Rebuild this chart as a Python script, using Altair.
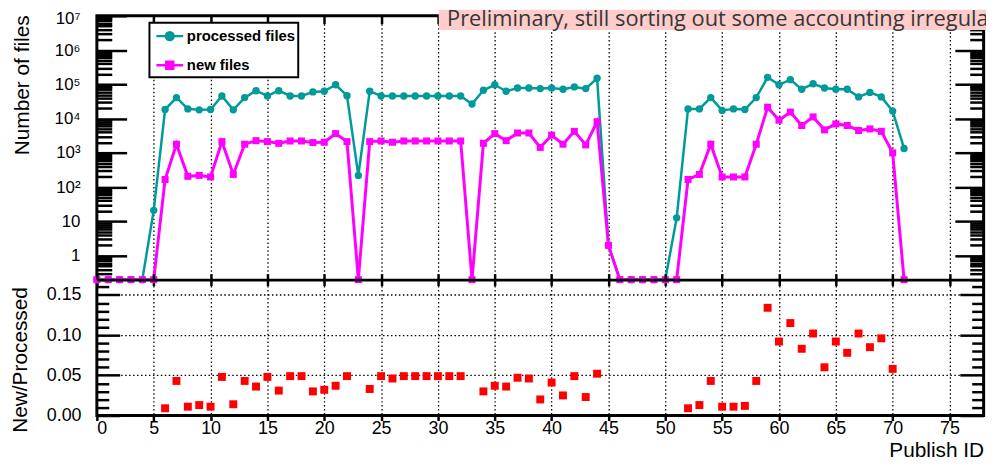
import altair as alt
import pandas as pd

# ---------------- data ----------------
publish_id = list(range(72))
processed_files = [
    0, 0, 0, 0, 0, 21, 1.84e4, 4.1e4, 1.92e4, 1.8e4, 1.84e4, 4.57e4, 1.8e4, 4.1e4,
    6.5e4, 4.57e4, 6.5e4, 4.57e4, 4.57e4, 6.0e4, 6.3e4,
    9.7e4, 4.67e4, 220, 6.3e4, 4.57e4, 4.57e4, 4.57e4, 4.57e4, 4.57e4, 4.57e4, 4.57e4,
    4.57e4, 2.66e4, 6.7e4, 9.7e4, 6.3e4, 7.8e4, 7.8e4, 7.5e4, 7.8e4, 7.2e4, 8.4e4,
    7.5e4, 1.5e5, 2,
    0, 0, 0, 0, 0,
    12.7, 1.92e4, 1.92e4, 4.1e4, 1.73e4, 1.92e4, 1.84e4, 4.1e4, 1.6e5, 9.7e4, 1.37e5,
    7.2e4, 1.04e5, 7.8e4, 7.2e4, 7.2e4, 4.3e4, 5.8e4, 4.3e4, 1.66e4, 1.35e3,
]
new_files = [
    0, 0, 0, 0, 0, 0,
    167, 1.79e3, 207, 220, 198, 2.13e3, 235, 1.79e3, 2.27e3, 2.13e3, 1.9e3, 2.22e3,
    2.22e3, 2.0e3, 2.04e3, 3.64e3, 2.13e3,
    0,
    2.13e3, 2.22e3, 2.04e3, 2.22e3, 2.22e3, 2.22e3, 2.22e3, 2.22e3, 2.22e3,
    0,
    1.9e3, 3.64e3, 2.27e3, 3.8e3, 3.8e3, 1.44e3, 3.28e3, 1.79e3, 4.25e3, 1.71e3, 8.1e3, 2,
    0, 0, 0, 0, 0, 0,
    167, 235, 1.79e3, 198, 198, 198, 1.79e3, 2.15e4, 9.0e3, 1.55e4, 6.3e3, 1.12e4,
    4.7e3, 7.0e3, 6.3e3, 4.5e3, 5.0e3, 4.25e3, 1.0e3,
    0,
]
ratio_ids = [6, 7, 8, 9, 10, 11, 12, 13, 14, 15, 16, 17, 18, 19, 20, 21, 22,
             24, 25, 26, 27, 28, 29, 30, 31, 32,
             34, 35, 36, 37, 38, 39, 40, 41, 42, 43, 44,
             52, 53, 54, 55, 56, 57, 58, 59, 60, 61, 62, 63, 64, 65, 66, 67, 68, 69, 70]
ratio_values = [0.009, 0.043, 0.011, 0.013, 0.011, 0.048, 0.014, 0.043, 0.036, 0.048,
                0.031, 0.049, 0.049, 0.030, 0.032, 0.037, 0.049,
                0.033, 0.049, 0.046, 0.049, 0.049, 0.049, 0.049, 0.049, 0.049,
                0.030, 0.037, 0.036, 0.047, 0.046, 0.020, 0.041, 0.025, 0.049, 0.023, 0.052,
                0.009, 0.013, 0.043, 0.011, 0.011, 0.012, 0.043, 0.134, 0.092, 0.115,
                0.083, 0.102, 0.060, 0.092, 0.078, 0.102, 0.085, 0.096, 0.058]
series_names = ["processed files", "new files"]
x_ticks = [0, 5, 10, 15, 20, 25, 30, 35, 40, 45, 50, 55, 60, 65, 70, 75]
log_major = [1, 10, 100, 1e3, 1e4, 1e5, 1e6, 1e7]
log_minor = [m * 10.0 ** k for k in range(-1, 7) for m in range(2, 10) if 0.2 <= m * 10.0 ** k <= 1e7]
ratio_major = [0.0, 0.05, 0.10, 0.15]
ratio_minor = [0.01, 0.02, 0.03, 0.04, 0.06, 0.07, 0.08, 0.09, 0.11, 0.12, 0.13, 0.14, 0.16]
banner_text = "Preliminary, still sorting out some accounting irregularities"

TEAL = "#009a9a"
MAGENTA = "#ff00ff"
W = 894          # plot width
H = 403          # both panels together
H_TOP = 266      # upper panel height
FONT = "Liberation Sans"

df = pd.DataFrame({"id": publish_id, "processed": processed_files, "new": new_files})
df_ratio = pd.DataFrame({"id": ratio_ids, "ratio": ratio_values})
df_leg = pd.DataFrame({"series": series_names})
df_one = pd.DataFrame({"a": [0]})

xscale = alt.Scale(domain=[0, 78], nice=False, zero=False)
ys_top = alt.Scale(type="log", domain=[0.2, 1e7], range=[H_TOP, 0], nice=False)
ys_bot = alt.Scale(domain=[0, 0.169], range=[H, H_TOP], nice=False, zero=False)
ys_full = alt.Scale(domain=[0, 1], range=[H, 0], nice=False, zero=False)

sup = "['','','\u00b2','\u00b3','\u2074','\u2075','\u2076','\u2077']"
log_label = ("datum.value >= 100 ? '10' + " + sup + "[round(log(datum.value)/LN10)] : "
             "(datum.value >= 10 ? '10' : '1')")

# ---- x axes ----
ax_x_main = alt.Axis(values=x_ticks, orient="bottom", offset=0, tickSize=5, labelPadding=13.5,
                     labelBaseline="alphabetic", labelFontSize=18, domain=False, grid=True,
                     title="Publish ID", titleX=W, titleY=41, titleAlign="right",
                     titleBaseline="alphabetic", titleAngle=0)
ax_x_topframe = alt.Axis(values=x_ticks, orient="top", offset=-8, tickSize=8,
                         labels=False, domain=False, grid=False, title=None)
ax_x_sep = alt.Axis(values=x_ticks, orient="top", offset=-H_TOP, tickSize=6, labels=False,
                    domain=True, domainColor="black", domainWidth=3, grid=False, title=None, zindex=1)
ax_x_sep2 = alt.Axis(values=x_ticks, orient="bottom", offset=-(H - H_TOP), tickSize=6,
                     labels=False, domain=False, grid=False, title=None)

# ---- y axes, upper panel ----
ya_l1 = alt.Axis(values=log_major, orient="left", offset=-30, tickSize=30, labelExpr=log_label,
                 labelPadding=17, labelFontSize=17, labelFlush=True, labelFlushOffset=5,
                 domain=False, grid=False, title=None)
ya_l2 = alt.Axis(values=log_minor, orient="left", offset=-15, tickSize=15,
                 labels=False, domain=False, grid=False, title=None)
ya_r1 = alt.Axis(values=log_major, orient="right", offset=-29, tickSize=29,
                 labels=False, domain=False, grid=False, title=None)
ya_r2 = alt.Axis(values=log_minor, orient="right", offset=-14, tickSize=14,
                 labels=False, domain=False, grid=False, title=None)
ya_title = alt.Axis(orient="left", offset=0, ticks=False, labels=False, domain=False, grid=False,
                    title="Number of files", titleX=-69, titleY=-1, titleAngle=270,
                    titleAlign="right", titleBaseline="alphabetic")

# ---- y axes, lower panel ----
yb_l1 = alt.Axis(values=ratio_major, orient="left", offset=-23, tickSize=23, format=".2f",
                 labelPadding=16, labelFontSize=18, domain=False, grid=True, title=None)
yb_l2 = alt.Axis(values=ratio_minor, orient="left", offset=-12, tickSize=12,
                 labels=False, domain=False, grid=False, title=None)
yb_r1 = alt.Axis(values=ratio_major, orient="right", offset=-24, tickSize=24,
                 labels=False, domain=False, grid=False, title=None)
yb_r2 = alt.Axis(values=ratio_minor, orient="right", offset=-12, tickSize=12,
                 labels=False, domain=False, grid=False, title=None)
yb_title = alt.Axis(orient="left", offset=0, ticks=False, labels=False, domain=False, grid=False,
                    title="New/Processed", titleX=-70.6, titleY=H_TOP + 7, titleAngle=270,
                    titleAlign="right", titleBaseline="alphabetic")

base = alt.Chart(df).transform_calculate(
    yp="max(datum.processed, 0.2)", yn="max(datum.new, 0.2)"
)

teal_line = base.mark_line(color=TEAL, strokeWidth=2.5).encode(
    x=alt.X("id:Q", scale=xscale, axis=None),
    y=alt.Y("yp:Q", scale=ys_top, axis=ya_l1),
)
teal_pts = base.mark_circle(color=TEAL, size=55, opacity=1).encode(
    x=alt.X("id:Q", scale=xscale, axis=ax_x_topframe),
    y=alt.Y("yp:Q", scale=ys_top, axis=ya_l2),
)
mag_line = base.mark_line(color=MAGENTA, strokeWidth=3).encode(
    x=alt.X("id:Q", scale=xscale, axis=ax_x_sep),
    y=alt.Y("yn:Q", scale=ys_top, axis=ya_r1),
)
mag_pts = base.mark_square(color=MAGENTA, size=50, opacity=1).encode(
    x=alt.X("id:Q", scale=xscale, axis=ax_x_sep2),
    y=alt.Y("yn:Q", scale=ys_top, axis=ya_r2),
)

ratio_pts = alt.Chart(df_ratio).mark_square(color="#ff0000", size=64, opacity=1).encode(
    x=alt.X("id:Q", scale=xscale, axis=None),
    y=alt.Y("ratio:Q", scale=ys_bot, axis=yb_l1),
)

def axis_only(scale, yaxis, xaxis=None):
    return alt.Chart(df_one).transform_filter("false").mark_point().encode(
        x=alt.X("a:Q", scale=xscale, axis=xaxis),
        y=alt.Y("a:Q", scale=scale, axis=yaxis),
    )

circle_path = "M-1.5,0H1.5M0.44,0A0.44,0.44,0,1,1,-0.44,0A0.44,0.44,0,1,1,0.44,0Z"
square_path = "M-1.5,0H1.5M-0.39,-0.39H0.39V0.39H-0.39Z"
nb = "\u00a0" * 10
leg = alt.Legend(title=None, orient="none", legendX=53, legendY=7, symbolSize=324,
                 symbolStrokeWidth=2.5, labelFont=FONT, labelFontWeight="bold",
                 labelFontSize=15, labelColor="black", labelOffset=6.7, rowPadding=9.4,
                 padding=3, strokeColor="black", fillColor="white", symbolOffset=7,
                 labelExpr="datum.label + '" + nb + "'")
legend_layer = alt.Chart(df_leg).transform_filter("false").mark_point(
    opacity=1, filled=False, strokeWidth=2.5
).encode(
    fill=alt.Fill("series:N", scale=alt.Scale(domain=series_names, range=[TEAL, MAGENTA]), legend=leg),
    stroke=alt.Stroke("series:N", scale=alt.Scale(domain=series_names, range=[TEAL, MAGENTA]), legend=leg),
    shape=alt.Shape("series:N", scale=alt.Scale(domain=series_names, range=[circle_path, square_path]), legend=leg),
)

banner_rect = alt.Chart(df_one).mark_rect(color="#ffcccc").encode(
    x=alt.value(344.7), x2=alt.value(W + 2.4), y=alt.value(-6), y2=alt.value(14.3)
)
banner = alt.Chart(df_one).mark_text(
    align="left", baseline="alphabetic", font="Open Sans", fontSize=22, color="#363636"
).encode(x=alt.value(353), y=alt.value(10), text=alt.value(banner_text))

chart = alt.layer(
    axis_only(ys_full, None, ax_x_main),
    teal_line, teal_pts, mag_line, mag_pts, axis_only(ys_top, ya_title),
    ratio_pts, axis_only(ys_bot, yb_l2), axis_only(ys_bot, yb_r1), axis_only(ys_bot, yb_r2),
    axis_only(ys_bot, yb_title),
    legend_layer, banner_rect, banner,
).resolve_scale(y="independent").resolve_axis(x="independent", y="independent").properties(
    width=W, height=H,
    autosize=alt.AutoSizeParams(type="none"),
    padding={"left": 89.6, "top": 6, "right": 2.4, "bottom": 44},
    background="white",
).configure_view(stroke="black", strokeWidth=3).configure_axis(
    labelFont=FONT, titleFont=FONT, labelColor="black", titleColor="black",
    titleFontSize=21, titleFontWeight="normal", tickColor="black", tickWidth=2.5,
    gridColor="black", gridDash=[1.5, 2.5], gridWidth=1.3, gridOpacity=1,
).configure_legend(strokeWidth=2)

chart.save("out.html", embed_options={"renderer": "svg", "actions": False})
